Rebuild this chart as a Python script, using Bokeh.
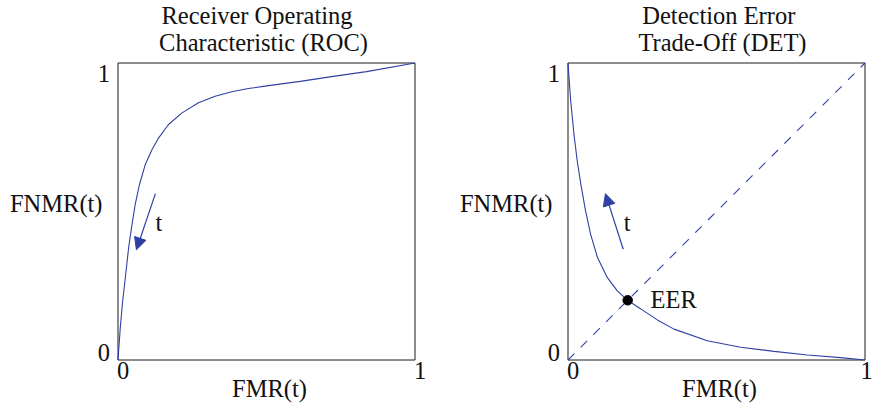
from bokeh.plotting import figure
from bokeh.layouts import row
from bokeh.models import Range1d, Arrow, NormalHead
from bokeh.core.properties import value
from bokeh.embed import file_html
from bokeh.resources import INLINE

# ---- data ----
roc_fmr = [0, 0.0077, 0.0156, 0.0246, 0.0358, 0.047, 0.058, 0.0723, 0.0918,
           0.1147, 0.137, 0.170, 0.2156, 0.271, 0.327, 0.383, 0.439, 0.495,
           0.613, 0.725, 0.837, 1.0]
roc_fnmr = [0, 0.109, 0.198, 0.277, 0.378, 0.456, 0.524, 0.591, 0.658,
            0.709, 0.748, 0.793, 0.832, 0.866, 0.888, 0.903, 0.914, 0.922,
            0.938, 0.955, 0.971, 1.0]

det_fmr = [0, 0.009, 0.020, 0.031, 0.043, 0.059, 0.076, 0.099, 0.132, 0.166,
           0.201, 0.245, 0.301, 0.357, 0.469, 0.581, 0.694, 0.806, 0.918, 1.0]
det_fnmr = [1.0, 0.873, 0.761, 0.671, 0.593, 0.503, 0.424, 0.346, 0.278, 0.233,
            0.201, 0.172, 0.135, 0.104, 0.065, 0.043, 0.029, 0.017, 0.008, 0]

diag_x = [0, 1]
diag_y = [0, 1]
eer_fmr = [0.201]
eer_fnmr = [0.201]

tick_values = [0, 1]
tick_labels = ["0", "1"]
roc_title = ["Receiver Operating", "Characteristic (ROC)"]
det_title = ["Detection Error", "Trade-Off (DET)"]
x_label = "FMR(t)"
y_label = "FNMR(t)"
t_label = "t"
eer_label = "EER"

# arrows: x_start, y_start, x_end, y_end (data units)
roc_arrow = [0.126, 0.56, 0.062, 0.371]
det_arrow = [0.186, 0.373, 0.126, 0.56]

# ---- styling / layout ----
FONT = "Liberation Serif"
FS = "24.5px"
BLUE = "#2f40a3"
INK = "#111111"
S = 297.0          # pixels per data unit
H = 406
BOX_BOTTOM = 359.5  # pixel row of y = 0
BASE_SHIFT = 8.5    # compensation for the renderer's baseline placement


def make_panel(width, box_left):
    p = figure(width=width, height=H,
               x_range=Range1d(-box_left / S, (width - box_left) / S),
               y_range=Range1d(-(H - BOX_BOTTOM) / S, BOX_BOTTOM / S),
               x_axis_location=None, y_axis_location=None,
               toolbar_location=None, output_backend="svg",
               min_border=0)
    p.min_border_left = 0
    p.min_border_right = 0
    p.min_border_top = 0
    p.min_border_bottom = 0
    p.xgrid.visible = False
    p.ygrid.visible = False
    p.outline_line_color = None
    p.background_fill_color = "white"
    p.border_fill_color = "white"
    p.quad(left=[tick_values[0]], right=[tick_values[-1]],
           bottom=[tick_values[0]], top=[tick_values[-1]],
           fill_color=None, line_color="#1a1a1a", line_width=1)
    return p


def txt(p, s, x, y, dx=0.0, dy=0.0, align="left"):
    p.text(x=[x + dx / S], y=[y + (dy + BASE_SHIFT) / S], text=[s],
           text_font=value(FONT), text_font_size=FS,
           text_align=align, text_baseline="alphabetic", text_color=INK)


def decorate(p, title_lines, title_dx, ylab_dx, xtick_dx):
    txt(p, title_lines[0], 0.5, 1, title_dx[0], 39.5, "center")
    txt(p, title_lines[1], 0.5, 1, title_dx[1], 12.5, "center")
    txt(p, x_label, 0.5, 0, 3, -37.2, "center")
    txt(p, y_label, 0, 0, ylab_dx, 148.5, "right")
    for v, t, d in zip(tick_values, tick_labels, xtick_dx):
        txt(p, t, v, 0, d, -18.8, "left")
    txt(p, tick_labels[1], 0, tick_values[1], -8, -18.5, "right")
    txt(p, tick_labels[0], 0, tick_values[0], -8, -0.5, "right")


def arrow(p, a):
    p.add_layout(Arrow(x_start=a[0], y_start=a[1], x_end=a[2], y_end=a[3],
                       line_color=BLUE, line_width=1.2,
                       end=NormalHead(size=12, fill_color=BLUE,
                                      line_color=BLUE, line_width=1)))


# left panel: ROC
p1 = make_panel(440, 117.5)
decorate(p1, roc_title, (-9.5, -3), -15.5, (-1, -1))
p1.line(roc_fmr, roc_fnmr, line_color=BLUE, line_width=1.1)
arrow(p1, roc_arrow)
txt(p1, t_label, 0.126, 0.4346)

# right panel: DET
p2 = make_panel(433, 127.5)
decorate(p2, det_title, (2.3, 6), -15.5, (-1, -4.5))
p2.line(diag_x, diag_y, line_color=BLUE, line_width=1.1, line_dash="9 9")
p2.line(det_fmr, det_fnmr, line_color=BLUE, line_width=1.1)
p2.scatter(eer_fmr, eer_fnmr, size=9.5, color="black")
arrow(p2, det_arrow)
txt(p2, t_label, 0.188, 0.4346)
txt(p2, eer_label, 0.278, 0.175)

p = row(p1, p2)
open("out.html", "w").write(file_html(p, INLINE))
